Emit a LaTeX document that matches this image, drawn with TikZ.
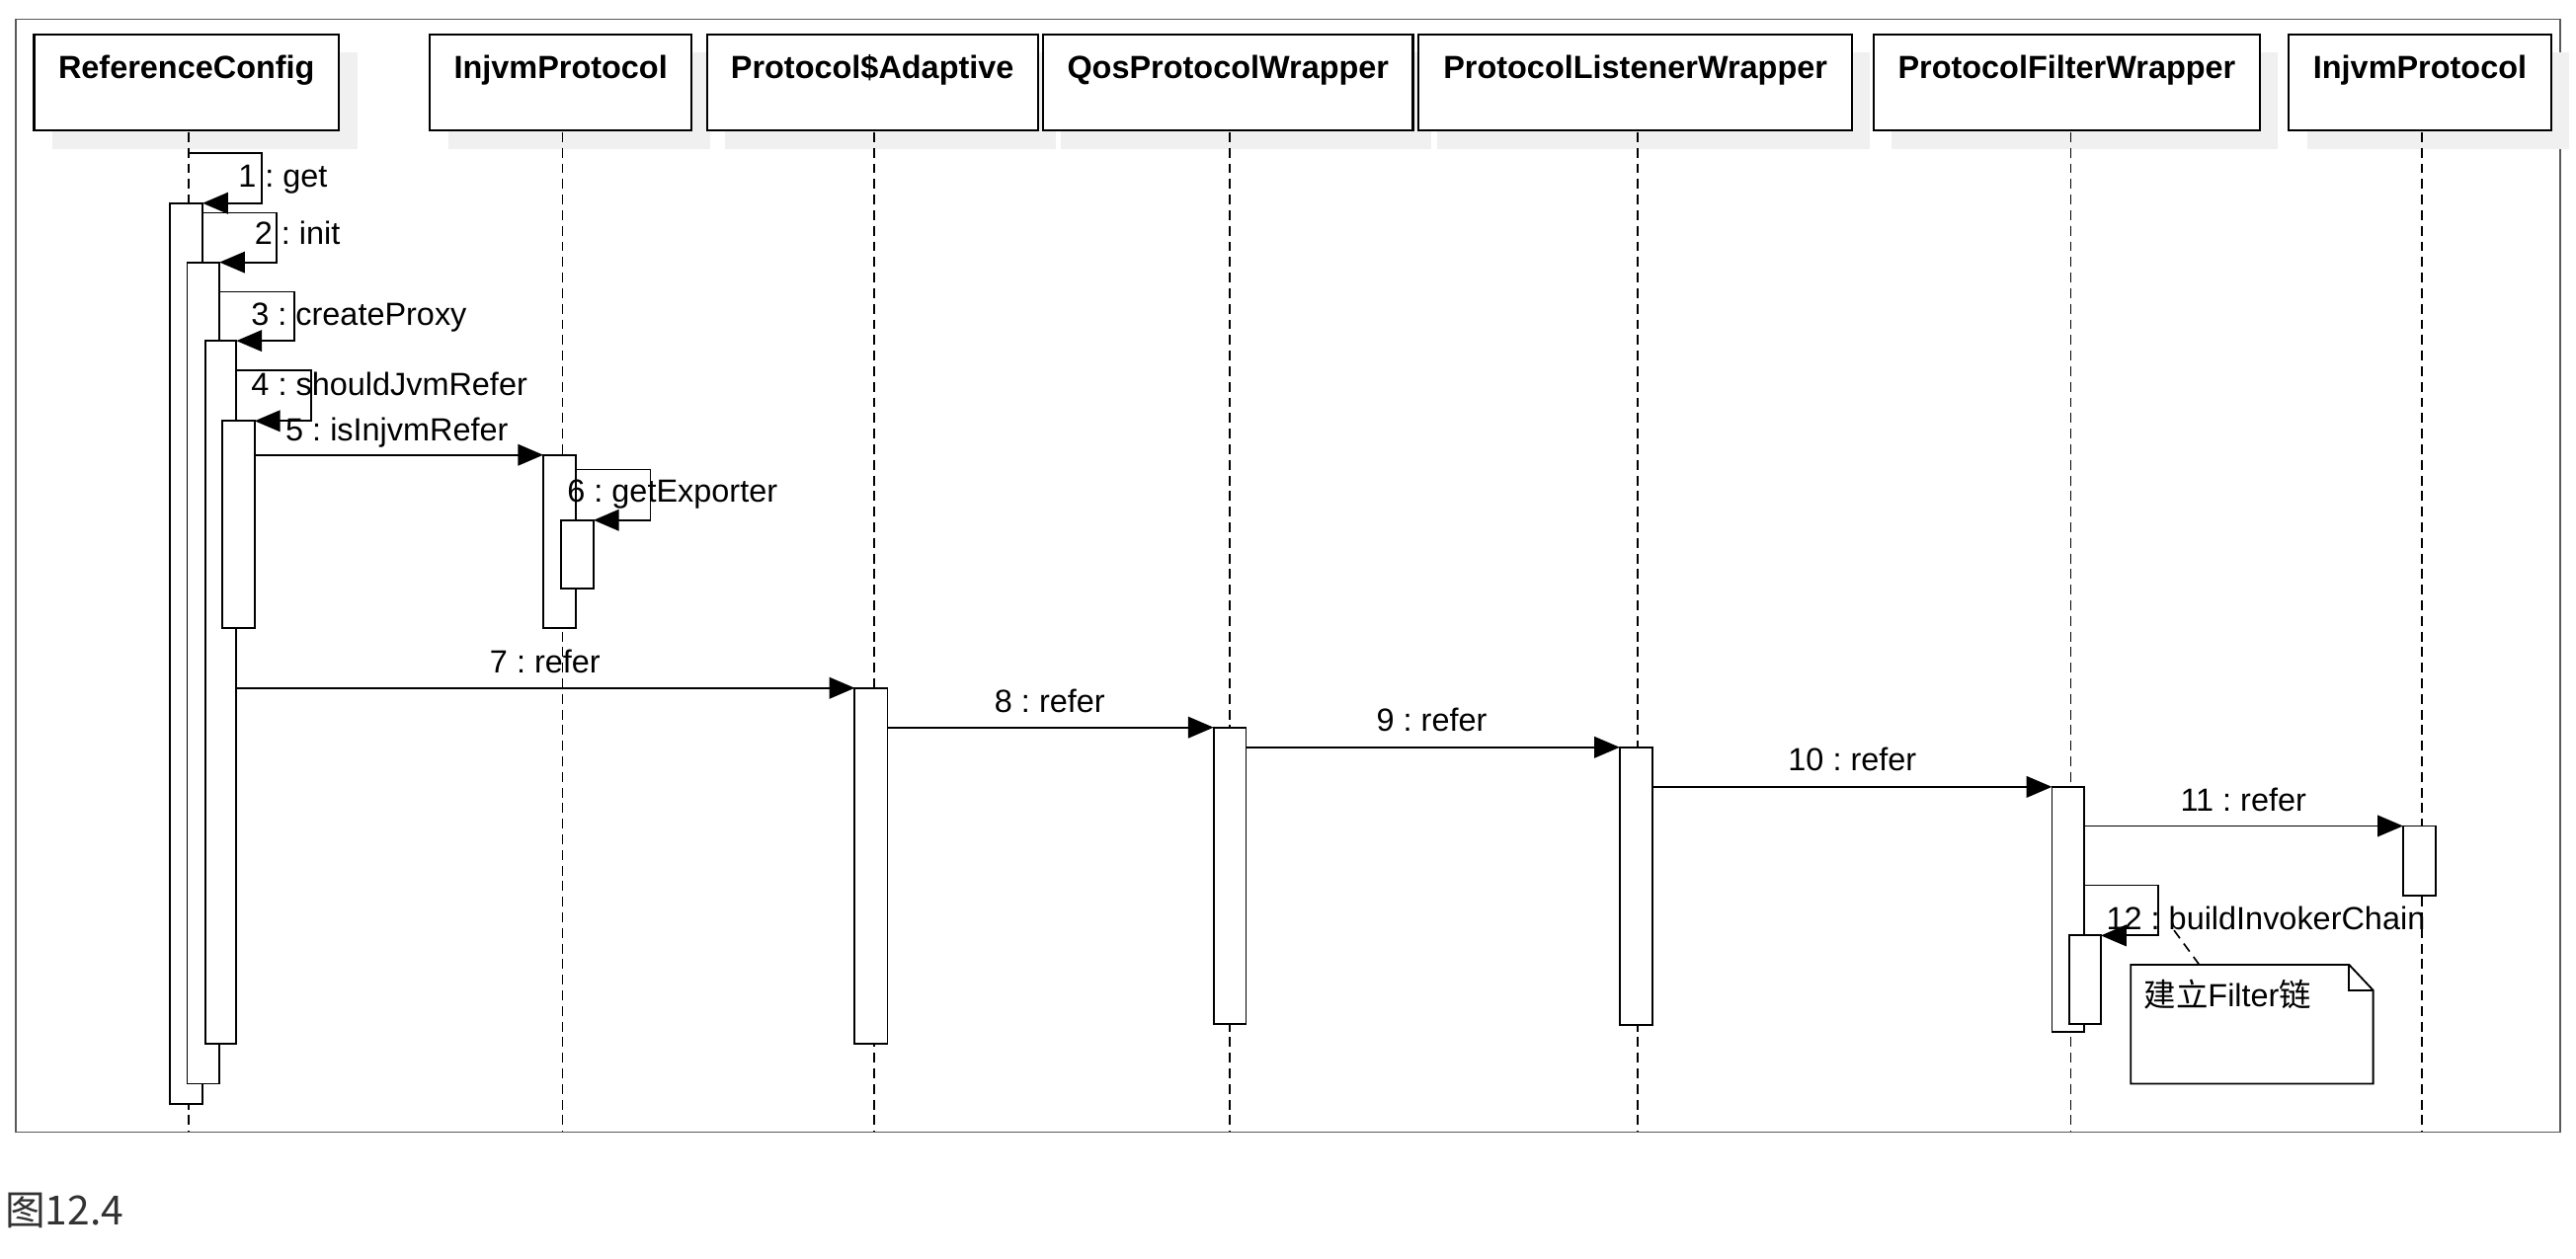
\documentclass[tikz,border=0pt]{standalone}
\usepackage{fontspec}
\setmainfont{Liberation Sans}
\newfontfamily\cjk{Noto Sans CJK SC}
\usetikzlibrary{arrows.meta,fit}
\frenchspacing
\begin{document}
\begin{tikzpicture}[x=1pt,y=-1pt,
  every node/.style={inner sep=0pt,outer sep=0pt},
  hdr/.style={draw=black,line width=1.3pt,fill=white,inner sep=0pt},
  shadowbox/.style={fill=black!6,draw=none},
  bar/.style={draw=black,line width=1.1pt,fill=white,inner sep=0pt},
  lifeline/.style={line width=1pt,dash pattern=on 6pt off 3.5pt},
  msg/.style={line width=1.1pt,-{Triangle[length=15.5pt,width=13pt]}},
  lbl/.style={anchor=base,font=\frenchspacing\fontsize{19.5}{23}\selectfont},
  hdrtxt/.style={anchor=base,font=\bfseries\fontsize{19.5}{23}\selectfont},
  notelink/.style={line width=1pt,dash pattern=on 6pt off 4pt}]
\useasboundingbox (0,0) rectangle (1568,766);
% frame
\draw[black!65,line width=1pt] (9.5,11.8) rectangle (1558.2,689.2);
% shadows
\foreach \a/\b in {20.7/206.4,261.7/421,430.4/631.7,635/860,863.6/1127.2,1140.4/1375.7,1393.2/1553}
  \fill[black!6] (\a+11,21+11) rectangle (\b+11,79.5+11);
% header boxes
\node[hdr,fit={(20.7,21) (206.4,79.5)}] (h1) {};
\node[hdr,fit={(261.7,21) (421,79.5)}] (h2) {};
\node[hdr,fit={(430.4,21) (631.7,79.5)}] (h3) {};
\node[hdr,fit={(635,21) (860,79.5)}] (h4) {};
\node[hdr,fit={(863.6,21) (1127.2,79.5)}] (h5) {};
\node[hdr,fit={(1140.4,21) (1375.7,79.5)}] (h6) {};
\node[hdr,fit={(1393.2,21) (1553,79.5)}] (h7) {};
\node[hdrtxt] (t1) at (113.5,47.8) {ReferenceConfig};
\node[hdrtxt] (t2) at (341.3,47.8) {InjvmProtocol};
\node[hdrtxt] (t3) at (531,47.8) {Protocol\$Adaptive};
\node[hdrtxt] (t4) at (747.5,47.8) {QosProtocolWrapper};
\node[hdrtxt] (t5) at (995.4,47.8) {ProtocolListenerWrapper};
\node[hdrtxt] (t6) at (1258,47.8) {ProtocolFilterWrapper};
\node[hdrtxt] (t7) at (1473,47.8) {InjvmProtocol};
% lifelines
\coordinate (l1) at (115,80.5);   \coordinate (l1e) at (115,689);
\coordinate (l2) at (342.4,80.5); \coordinate (l2e) at (342.4,689);
\coordinate (l3) at (532,80.5);   \coordinate (l3e) at (532,689);
\coordinate (l4) at (748.6,80.5); \coordinate (l4e) at (748.6,689);
\coordinate (l5) at (996.7,80.5); \coordinate (l5e) at (996.7,689);
\coordinate (l6) at (1260.5,80.5);\coordinate (l6e) at (1260.5,689);
\coordinate (l7) at (1474.3,80.5);\coordinate (l7e) at (1474.3,689);
\foreach \i in {1,...,7} \draw[lifeline] (l\i) -- (l\i e);
% activation bars
\node[bar,fit={(103.5,123.7) (123.3,672.2)}] (rA) {};
\node[bar,fit={(113.9,159.7) (133.6,659.8)}] (rB) {};
\node[bar,fit={(124.9,207.5) (143.9,635.5)}] (rC) {};
\node[bar,fit={(135.3,256.3) (155,382.5)}] (rD) {};
\node[bar,fit={(330.7,277) (350.6,382.5)}] (iA) {};
\node[bar,fit={(341.3,316.7) (361.3,358.3)}] (iB) {};
\node[bar,fit={(520.3,418.9) (540.2,635.5)}] (pA) {};
\node[bar,fit={(738.7,442.9) (758.4,623.5)}] (qA) {};
\node[bar,fit={(985.9,455) (1005.6,623.9)}] (lA) {};
\node[bar,fit={(1249,479.1) (1268.7,628.3)}] (fA) {};
\node[bar,fit={(1259.5,569.6) (1278.8,623.6)}] (fB) {};
\node[bar,fit={(1462.7,502.9) (1482.4,545.5)}] (jA) {};
% messages
\draw[msg] (l1 |- 0,93.4) -- ++(44.5,0) |- (rA.north east);
\draw[msg] (rA.east |- 0,129.6) -- ++(45.1,0) |- (rB.north east);
\draw[msg] (rB.east |- 0,177.7) -- ++(45.5,0) |- (rC.north east);
\draw[msg] (rC.east |- 0,225.5) -- ++(45.6,0) |- (rD.north east);
\draw[msg] (rD.east |- iA.north) -- (iA.north west);
\draw[msg] (iA.east |- 0,285.9) -- ++(45.3,0) |- (iB.north east);
\draw[msg] (rC.east |- pA.north) -- (pA.north west);
\draw[msg] (pA.east |- qA.north) -- (qA.north west);
\draw[msg] (qA.east |- lA.north) -- (lA.north west);
\draw[msg] (lA.east |- fA.north) -- (fA.north west);
\draw[msg] (fA.east |- jA.north) -- (jA.north west);
\draw[msg] (fA.east |- 0,539) -- ++(44.8,0) |- (fB.north east);
% labels
\node[lbl] (m1) at (172.2,114) {1 : get};
\node[lbl] (m2) at (181,149) {2 : init};
\node[lbl] (m3) at (218.5,197.8) {3 : createProxy};
\node[lbl] (m4) at (237,241) {4 : shouldJvmRefer};
\node[lbl] (m5) at (241.6,268.4) {5 : isInjvmRefer};
\node[lbl] (m6) at (409.3,306) {6 : getExporter};
\node[lbl] (m7) at (331.8,409.8) {7 : refer};
\node[lbl] (m8) at (639,433.5) {8 : refer};
\node[lbl] (m9) at (871.5,445.5) {9 : refer};
\node[lbl] (m10) at (1127.5,469.3) {10 : refer};
\node[lbl] (m11) at (1365.5,493.8) {11 : refer};
\node[lbl] (m12) at (1379.2,566.2) {12 : buildInvokerChain};
% note
\node[fit={(1297,587.4) (1444.5,659.8)}] (note) {};
\draw[line width=1.1pt,fill=white] (note.north west) -- ++(132.9,0) -- (note.north east |- 0,602.9) -- (note.south east) -- (note.south west) -- cycle;
\draw[line width=1.1pt] (1429.9,587.4) -- (1429.9,602.9) -- (note.north east |- 0,602.9);
\node[lbl,anchor=base west] (nt) at (1305,612.8) {{\cjk 建立}Filter{\cjk 链}};
\coordinate (c12) at (1323,566);
\draw[notelink] ([xshift=41.7pt]note.north west) -- (c12);
% caption
\node[anchor=base west,font=\cjk\fontsize{24.5}{28}\selectfont,text=black!80] (cap) at (3.1,745.9) {图12.4};
\end{tikzpicture}
\end{document}
